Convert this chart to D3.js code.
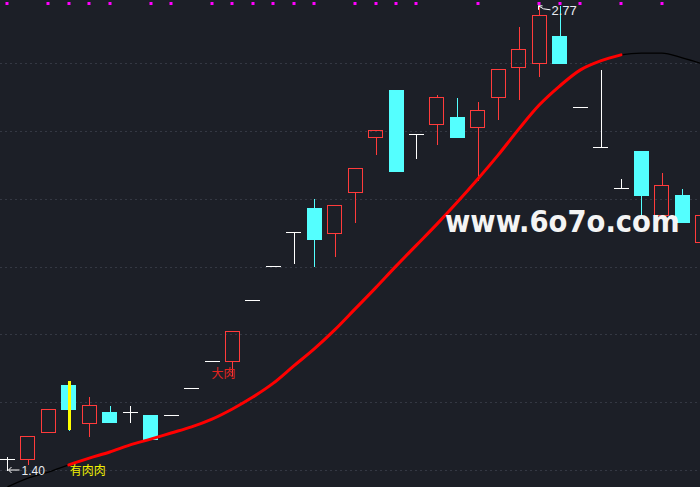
<!DOCTYPE html>
<html><head><meta charset="utf-8">
<script src="https://cdn.jsdelivr.net/npm/d3@7"></script>
<style>html,body{margin:0;padding:0;background:#1c1f27;overflow:hidden}svg{display:block}</style>
</head><body>
<svg id="chart" width="700" height="487"></svg>
<script>
// ---- data ----
const bars  = d3.range(35);
const open  = [1.432,1.432,1.512,1.651,1.539,1.571,1.571,1.562,1.562,1.642,1.721,1.721,1.901,2.001,2.102,2.172,2.099,2.220,2.382,2.520,2.391,2.420,2.441,2.411,2.500,2.588,2.600,2.680,2.470,2.352,2.231,2.341,2.152,2.211,2.072];
const close = [1.432,1.500,1.580,1.580,1.592,1.542,1.571,1.491,1.562,1.642,1.721,1.810,1.901,2.001,2.102,2.081,2.181,2.290,2.402,2.282,2.391,2.500,2.382,2.461,2.582,2.641,2.742,2.600,2.470,2.352,2.231,2.211,2.240,2.131,2.152];
const high  = [1.441,1.500,1.580,1.662,1.618,1.592,1.592,1.562,1.562,1.642,1.721,1.810,1.901,2.001,2.102,2.202,2.181,2.290,2.402,2.520,2.391,2.509,2.500,2.488,2.582,2.709,2.770,2.770,2.470,2.582,2.261,2.341,2.279,2.231,2.152];
const low   = [1.400,1.418,1.512,1.518,1.500,1.542,1.542,1.491,1.562,1.642,1.721,1.680,1.901,2.001,2.010,2.001,2.031,2.131,2.332,2.282,2.320,2.361,2.382,2.255,2.435,2.494,2.562,2.600,2.470,2.352,2.231,2.149,2.152,2.131,2.072];
const trend = [1.350,1.376,1.394,1.415,1.435,1.453,1.474,1.491,1.509,1.527,1.550,1.580,1.615,1.656,1.707,1.757,1.813,1.875,1.937,2.001,2.063,2.125,2.190,2.258,2.329,2.405,2.476,2.532,2.579,2.606,2.624,2.629,2.629,2.615,2.597];
const trendRed = [0,0,0,1,1,1,1,1,1,1,1,1,1,1,1,1,1,1,1,1,1,1,1,1,1,1,1,1,1,1,1,0,0,0,0];
const topDots  = [1,0,1,1,1,1,0,1,1,0,1,1,1,1,1,1,0,1,1,1,1,0,0,1,0,0,1,1,1,0,1,0,1,0,0];
const yellowSignal = [3];
const gridTicks = [1.40,1.60,1.80,2.00,2.20,2.40,2.60];
const labels = [
  {i:3,  text:"有肉肉", kind:"start"},
  {i:11, text:"大肉",   kind:"big"}
];
const lowLabel = {i:0, text:"1.40"};
const highLabel = {i:26, text:"2.77"};
const watermark = "www.6o7o.com";

// ---- layout ----
const W = 700, H = 487;
const svg = d3.select("#chart");
const x = d3.scaleBand().domain(bars).range([-2.73, 713.0]).paddingInner(0.27).paddingOuter(0.135);
const y = d3.scaleLinear().domain([1.40, 2.60]).range([470, 63]);
const cx = i => Math.round(x(i) + x.bandwidth()/2) + 0.5;
const py = v => Math.round(y(v)) + 0.5;
const bw = Math.round(x.bandwidth());

const RED = "#ff3b3b", CYAN = "#54ffff", WHITE = "#ffffff";

// grid
svg.append("g").selectAll("line").data(gridTicks).join("line")
  .attr("x1", 0).attr("x2", W)
  .attr("y1", d => py(d)).attr("y2", d => py(d))
  .attr("stroke", "#343843").attr("stroke-dasharray", "2,3").attr("stroke-width", 1);

// top dots
svg.append("g").selectAll("rect").data(bars.filter(i => topDots[i])).join("rect")
  .attr("x", i => cx(i) - 2).attr("y", 2).attr("width", 3).attr("height", 3)
  .attr("fill", "#ff00ff");

// candles
const cg = svg.append("g").attr("shape-rendering", "crispEdges");
bars.forEach(i => {
  const o = open[i], c = close[i], h = high[i], l = low[i];
  const xc = cx(i), left = Math.round(x(i)) + 0.5;
  if (c > o) {
    const top = py(c), bot = py(o);
    if (py(h) < top) cg.append("line").attr("x1", xc).attr("x2", xc).attr("y1", py(h)).attr("y2", top).attr("stroke", RED);
    if (py(l) > bot) cg.append("line").attr("x1", xc).attr("x2", xc).attr("y1", bot).attr("y2", py(l)).attr("stroke", RED);
    cg.append("rect").attr("x", left).attr("y", top).attr("width", bw - 1).attr("height", bot - top)
      .attr("fill", "none").attr("stroke", RED);
  } else if (c < o) {
    cg.append("line").attr("x1", xc).attr("x2", xc).attr("y1", py(h)).attr("y2", py(l)).attr("stroke", CYAN);
    const top = Math.round(y(o)), bot = Math.round(y(c));
    cg.append("rect").attr("x", Math.round(x(i))).attr("y", top).attr("width", bw).attr("height", bot - top + 1)
      .attr("fill", CYAN);
  } else {
    cg.append("line").attr("x1", xc).attr("x2", xc).attr("y1", py(h)).attr("y2", py(l)).attr("stroke", WHITE);
    cg.append("line").attr("x1", Math.round(x(i))).attr("x2", Math.round(x(i)) + bw).attr("y1", py(o)).attr("y2", py(o)).attr("stroke", WHITE);
  }
});

// yellow signal bar
yellowSignal.forEach(i => {
  svg.append("rect").attr("x", Math.round(x(i) + x.bandwidth()/2) - 1).attr("y", Math.round(y(high[i])))
    .attr("width", 3).attr("height", Math.round(y(low[i])) - Math.round(y(high[i])))
    .attr("fill", "#ffff00");
});

// trend line: black full, red segment on top
const lineGen = d3.line().x(i => x(i) + x.bandwidth()/2).y(i => y(trend[i])).curve(d3.curveMonotoneX);
svg.append("path").attr("d", lineGen(bars)).attr("fill", "none").attr("stroke", "#000").attr("stroke-width", 1.3);
svg.append("path").attr("d", lineGen(bars.filter(i => trendRed[i]))).attr("fill", "none")
  .attr("stroke", "#ff0000").attr("stroke-width", 3).attr("stroke-linecap", "round");

// signal labels
labels.forEach(L => {
  if (L.kind === "start") {
    svg.append("text").attr("x", x(L.i) + x.bandwidth()/2 + 1).attr("y", y(trend[L.i]) + 10)
      .attr("fill", "#f2f200").attr("font-family", "'Noto Sans CJK SC', sans-serif").attr("font-size", 12)
      .text(L.text);
  } else {
    svg.append("text").attr("x", x(L.i) + x.bandwidth()/2 - 9).attr("y", y(low[L.i]) + 3)
      .attr("text-anchor", "middle")
      .attr("fill", "#e3241f").attr("font-family", "'Noto Sans CJK SC', sans-serif").attr("font-size", 12)
      .text(L.text);
  }
});

// low / high markers
{
  const lx = cx(lowLabel.i), ly = y(low[lowLabel.i]);
  svg.append("path").attr("d", `M${lx+1},${ly} L${lx+12},${ly} M${lx+1},${ly} l3,-3 M${lx+1},${ly} l3,3`)
    .attr("stroke", WHITE).attr("fill", "none").attr("stroke-width", 1);
  svg.append("text").attr("x", lx + 14).attr("y", ly + 4.5).attr("fill", "#e8ecf2")
    .attr("font-family", "'Liberation Sans', Arial, sans-serif").attr("font-size", 12).text(lowLabel.text);
}
{
  const hx = cx(highLabel.i) - 1, hy = y(high[highLabel.i]) + 0.5;
  svg.append("path").attr("d", `M${hx},${hy} L${hx+5},${hy+3} L${hx+12},${hy+4} M${hx},${hy} l0,4 M${hx},${hy} l4,0`)
    .attr("stroke", WHITE).attr("fill", "none").attr("stroke-width", 1);
  svg.append("text").attr("x", hx + 13).attr("y", hy + 9.5).attr("fill", "#e8ecf2")
    .attr("font-family", "'Liberation Sans', Arial, sans-serif").attr("font-size", 13).text(highLabel.text);
}

// watermark
svg.append("text").attr("x", 445).attr("y", 232)
  .attr("fill", "#f4f4f4").attr("font-family", "'DejaVu Sans Condensed', 'DejaVu Sans', sans-serif")
  .attr("font-weight", "bold").attr("font-size", 30.5)
  .text(watermark);
</script>
</body></html>
